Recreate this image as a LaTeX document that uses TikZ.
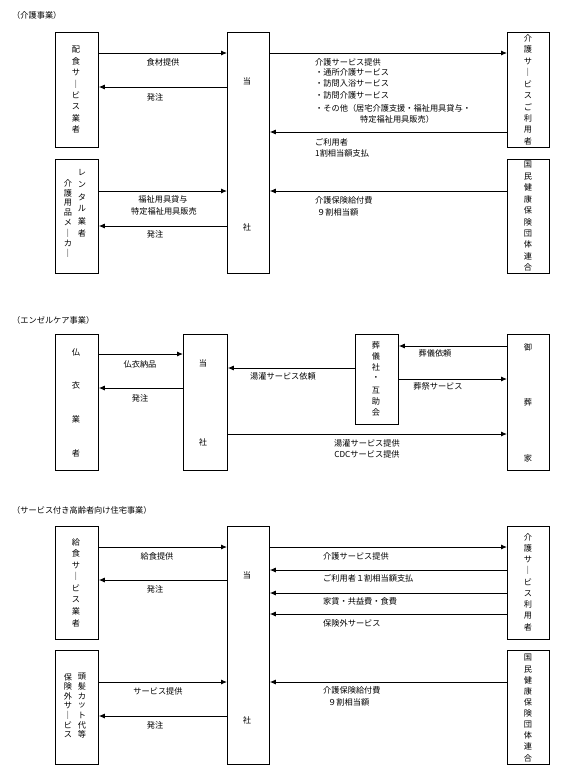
\documentclass[tikz,border=0pt]{standalone}
\usepackage{fontspec}
\newfontfamily\jp{Noto Sans CJK JP}
\usetikzlibrary{arrows.meta}

\tikzset{
  box/.style={draw, line width=0.8pt, inner sep=0pt, anchor=north west},
  flow/.style={-{Latex[length=6pt,width=5pt]}, line width=0.9pt},
  lbl/.style={font=\jp\fontsize{8.2}{10}\selectfont, inner sep=0pt},
}
% 縦書き: 名前, x, 最初のy, 間隔, 文字
\newcommand{\tate}[5]{%
  \foreach \ch [count=\i] in {#5}
    \node[lbl] (#1-\i) at (#2,{#3+(\i-1)*#4}) {\ch};}

\begin{document}
\begin{tikzpicture}[x=1pt,y=-1pt]
\useasboundingbox (0,0) rectangle (567,782);

% 介護事業
\node[lbl, anchor=west] (t1) at (12,15) {（介護事業）};
\node[box, minimum width=43pt, minimum height=115pt] (hs) at (55,32) {};
\node[box, minimum width=43pt, minimum height=114pt] (rt) at (55,159) {};
\node[box, minimum width=42pt, minimum height=241pt] (ts1) at (227,32) {};
\node[box, minimum width=42pt, minimum height=115pt] (ry1) at (507,32) {};
\node[box, minimum width=42pt, minimum height=114pt] (kk1) at (507,159) {};

\tate{hsc}{76}{50}{11.4}{配,食,サ,｜,ビ,ス,業,者}
\tate{rtr}{82}{173}{12}{レ,ン,タ,ル,業,者}
\tate{rtl}{68}{183}{10}{介,護,用,品,メ,｜,カ,｜}
\node[lbl] (ts1a) at (247,81) {当};
\node[lbl] (ts1b) at (247,227) {社};
\tate{ry1c}{528}{38}{11.5}{介,護,サ,｜,ビ,ス,ご,利,用,者}
\tate{kk1c}{528}{165}{11.4}{国,民,健,康,保,険,団,体,連,合}

% 矢印
\draw[flow] (hs.east |- 0,53) -- (ts1.west |- 0,53);
\draw[flow] (ts1.west |- 0,87) -- (hs.east |- 0,87);
\draw[flow] (rt.east |- 0,191) -- (ts1.west |- 0,191);
\draw[flow] (ts1.west |- 0,226) -- (rt.east |- 0,226);
\draw[flow] (ts1.east |- 0,53) -- (ry1.west |- 0,53);
\draw[flow] (ry1.west |- 0,132) -- (ts1.east |- 0,132);
\draw[flow] (kk1.west |- 0,191) -- (ts1.east |- 0,191);

% ラベル
\node[lbl] (l1) at (163,62) {食材提供};
\node[lbl] (l2) at (155,97) {発注};
\node[lbl] (l3) at (163,199) {福祉用具貸与};
\node[lbl] (l4) at (164,211) {特定福祉用具販売};
\node[lbl] (l5) at (155,234) {発注};
\node[lbl, anchor=west] (l6) at (315,62) {介護サービス提供};
\node[lbl, anchor=west] (l7) at (315,72) {・通所介護サービス};
\node[lbl, anchor=west] (l8) at (315,83) {・訪問入浴サービス};
\node[lbl, anchor=west] (l9) at (315,95) {・訪問介護サービス};
\node[lbl, anchor=west] (l10) at (315,108) {・その他（居宅介護支援・福祉用具貸与・};
\node[lbl, anchor=west] (l11) at (360,119) {特定福祉用具販売）};
\node[lbl, anchor=west] (l12) at (315,142) {ご利用者};
\node[lbl, anchor=west] (l13) at (315,153) {1割相当額支払};
\node[lbl, anchor=west] (l14) at (315,200) {介護保険給付費};
\node[lbl, anchor=west] (l15) at (317,212) {９割相当額};

% エンゼルケア事業
\node[lbl, anchor=west] (t2) at (12,320) {（エンゼルケア事業）};
\node[box, minimum width=43pt, minimum height=136pt] (fu) at (55,334) {};
\node[box, minimum width=44pt, minimum height=136pt] (ts2) at (183,334) {};
\node[box, minimum width=43pt, minimum height=90pt] (sg) at (355,334) {};
\node[box, minimum width=42pt, minimum height=136pt] (gs) at (507,334) {};

\tate{fuc}{76}{352}{33.7}{仏,衣,業,者}
\node[lbl] (ts2a) at (203,363) {当};
\node[lbl] (ts2b) at (203,442) {社};
\tate{sgc}{376}{345}{11.3}{葬,儀,社,・,互,助,会}
\tate{gsc}{528}{347}{55.5}{御,葬,家}

\draw[flow] (fu.east |- 0,354) -- (ts2.west |- 0,354);
\draw[flow] (ts2.west |- 0,388) -- (fu.east |- 0,388);
\draw[flow] (sg.west |- 0,368) -- (ts2.east |- 0,368);
\draw[flow] (gs.west |- 0,346) -- (sg.east |- 0,346);
\draw[flow] (sg.east |- 0,379) -- (gs.west |- 0,379);
\draw[flow] (ts2.east |- 0,434) -- (gs.west |- 0,434);

\node[lbl] (m1) at (140,364) {仏衣納品};
\node[lbl] (m2) at (140,398) {発注};
\node[lbl] (m3) at (283,376) {湯灌サービス依頼};
\node[lbl] (m4) at (435,353) {葬儀依頼};
\node[lbl] (m5) at (438,386) {葬祭サービス};
\node[lbl] (m6) at (367,443) {湯灌サービス提供};
\node[lbl] (m7) at (367,454) {CDCサービス提供};

% サービス付き高齢者向け住宅事業
\node[lbl, anchor=west] (t3) at (12,510) {（サービス付き高齢者向け住宅事業）};
\node[box, minimum width=43pt, minimum height=113pt] (ks) at (55,526) {};
\node[box, minimum width=43pt, minimum height=114pt] (hk) at (55,650) {};
\node[box, minimum width=42pt, minimum height=238pt] (ts3) at (227,526) {};
\node[box, minimum width=42pt, minimum height=113pt] (ry3) at (507,526) {};
\node[box, minimum width=42pt, minimum height=114pt] (kk3) at (507,650) {};

\tate{ksc}{76}{542}{11.6}{給,食,サ,｜,ビ,ス,業,者}
\tate{hkr}{82}{677}{9.6}{頭,髪,カ,ッ,ト,代,等}
\tate{hkl}{68}{677}{9.6}{保,険,外,サ,｜,ビ,ス}
\node[lbl] (ts3a) at (247,575) {当};
\node[lbl] (ts3b) at (247,720) {社};
\tate{ry3c}{528}{537}{11.25}{介,護,サ,｜,ビ,ス,利,用,者}
\tate{kk3c}{528}{658}{11.1}{国,民,健,康,保,険,団,体,連,合}

\draw[flow] (ks.east |- 0,547) -- (ts3.west |- 0,547);
\draw[flow] (ts3.west |- 0,580) -- (ks.east |- 0,580);
\draw[flow] (hk.east |- 0,682) -- (ts3.west |- 0,682);
\draw[flow] (ts3.west |- 0,716) -- (hk.east |- 0,716);
\draw[flow] (ts3.east |- 0,547) -- (ry3.west |- 0,547);
\draw[flow] (ry3.west |- 0,570) -- (ts3.east |- 0,570);
\draw[flow] (ry3.west |- 0,593) -- (ts3.east |- 0,593);
\draw[flow] (ry3.west |- 0,614) -- (ts3.east |- 0,614);
\draw[flow] (kk3.west |- 0,682) -- (ts3.east |- 0,682);

\node[lbl] (n1) at (157,556) {給食提供};
\node[lbl] (n2) at (155,589) {発注};
\node[lbl] (n3) at (158,691) {サービス提供};
\node[lbl] (n4) at (155,725) {発注};
\node[lbl, anchor=west] (n5) at (323,556) {介護サービス提供};
\node[lbl, anchor=west] (n6) at (323,578) {ご利用者１割相当額支払};
\node[lbl, anchor=west] (n7) at (323,601) {家賃・共益費・食費};
\node[lbl, anchor=west] (n8) at (323,623) {保険外サービス};
\node[lbl, anchor=west] (n9) at (323,690) {介護保険給付費};
\node[lbl, anchor=west] (n10) at (328,702) {９割相当額};
\end{tikzpicture}
\end{document}
